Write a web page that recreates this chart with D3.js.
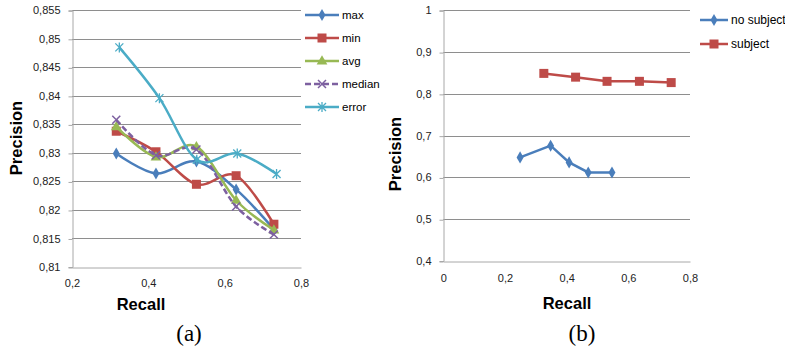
<!DOCTYPE html>
<html>
<head>
<meta charset="utf-8">
<script src="https://cdn.jsdelivr.net/npm/d3@7"></script>
<style>
  body { margin: 0; background: #fff; }
  svg { display: block; }
  text { font-family: "Liberation Sans", Arial, sans-serif; fill: #000; }
</style>
</head>
<body>
<svg id="chart" width="785" height="347"></svg>
<script>
// ---- data ----
// panel (a)
const recallA = [0.316, 0.42, 0.526, 0.63, 0.729];
const recallErr = [0.324, 0.429, 0.527, 0.633, 0.736];
const maxVals = [0.8299, 0.8264, 0.8285, 0.8236, 0.8166];
const minVals = [0.8338, 0.8302, 0.8245, 0.8260, 0.8175];
const avgVals = [0.8346, 0.8293, 0.8311, 0.8217, 0.8165];
const medianVals = [0.8358, 0.8296, 0.8306, 0.8206, 0.8157];
const errorVals = [0.8485, 0.8396, 0.8288, 0.8299, 0.8263];
const yTicksA = [0.81, 0.815, 0.82, 0.825, 0.83, 0.835, 0.84, 0.845, 0.85, 0.855];
const xTicksA = [0.2, 0.4, 0.6, 0.8];

// panel (b)
const recallNoSubj = [0.249, 0.348, 0.408, 0.470, 0.547];
const precNoSubj = [0.648, 0.676, 0.636, 0.612, 0.612];
const recallSubj = [0.326, 0.429, 0.531, 0.636, 0.739];
const precSubj = [0.849, 0.840, 0.830, 0.830, 0.827];
const yTicksB = [0.4, 0.5, 0.6, 0.7, 0.8, 0.9, 1];
const xTicksB = [0, 0.2, 0.4, 0.6, 0.8];

const svg = d3.select('#chart');
const comma = d => String(d).replace('.', ',');

const zip = (xs, ys) => xs.map((x, i) => ({x: x, y: ys[i]}));

// marker drawing
function drawMarker(g, type, color, px, py){
  if(type === 'diamond'){
    g.append('path').attr('d', d3.symbol(d3.symbolDiamond, 42)())
      .attr('transform', 'translate('+px+','+py+')').attr('fill', color);
  } else if(type === 'square'){
    g.append('rect').attr('x', px-4.5).attr('y', py-4.5).attr('width', 9).attr('height', 9)
      .attr('fill', color);
  } else if(type === 'triangle'){
    g.append('path').attr('d', d3.symbol(d3.symbolTriangle, 50)())
      .attr('transform', 'translate('+px+','+(py+0.5)+')').attr('fill', color);
  } else if(type === 'cross'){
    g.append('path').attr('d', 'M-4,-4L4,4M-4,4L4,-4')
      .attr('transform', 'translate('+px+','+py+')')
      .attr('stroke', color).attr('stroke-width', 1.5).attr('fill', 'none');
  } else if(type === 'star'){
    g.append('path').attr('d', 'M-4,-4L4,4M-4,4L4,-4M0,-5L0,5')
      .attr('transform', 'translate('+px+','+py+')')
      .attr('stroke', color).attr('stroke-width', 1.3).attr('fill', 'none');
  }
}

function drawPanel(opt){
  const x = d3.scaleLinear().domain(opt.xDomain).range(opt.xRange);
  const y = d3.scaleLinear().domain(opt.yDomain).range(opt.yRange);
  const g = svg.append('g');

  // grid
  g.selectAll('line.grid').data(opt.yTicks.slice(1)).enter().append('line')
    .attr('x1', opt.xRange[0]).attr('x2', opt.xRange[1])
    .attr('y1', d => Math.round(y(d)) + 0.5).attr('y2', d => Math.round(y(d)) + 0.5)
    .attr('stroke', '#8e8e8e').attr('stroke-width', 1);

  // y axis
  const yAxis = d3.axisLeft(y).tickValues(opt.yTicks).tickFormat(comma).tickSize(4).tickPadding(8);
  const ya = g.append('g').attr('transform', 'translate('+(Math.round(opt.xRange[0])+0.5)+',0)').call(yAxis);
  ya.select('.domain').attr('stroke', '#a8a8a8');
  ya.selectAll('.tick line').attr('stroke', '#a8a8a8').attr('transform', 'translate(0,0.5)');
  ya.selectAll('.tick text').attr('font-size', 11).style('fill', '#222');

  // x axis
  const xAxis = d3.axisBottom(x).tickValues(opt.xTicks).tickFormat(comma).tickSize(0).tickPadding(opt.xPad);
  const xa = g.append('g').attr('transform', 'translate(0,'+(Math.round(opt.yRange[0])+0.5)+')').call(xAxis);
  xa.select('.domain').attr('stroke', '#a8a8a8');
  xa.selectAll('.tick text').attr('font-size', 11).style('fill', '#222');

  // titles
  g.append('text').attr('x', opt.xTitle[0]).attr('y', opt.xTitle[1])
    .attr('text-anchor', 'middle').attr('font-size', 16.5).attr('font-weight', 'bold').text('Recall');
  g.append('text').attr('transform', 'translate('+opt.yTitle[0]+','+opt.yTitle[1]+') rotate(-90)')
    .attr('text-anchor', 'middle').attr('dominant-baseline', 'central')
    .attr('font-size', 16.5).attr('font-weight', 'bold').text('Precision');
  g.append('text').attr('x', opt.caption[0]).attr('y', opt.caption[1])
    .attr('text-anchor', 'middle').style('font-family', '"Liberation Serif", "Times New Roman", serif')
    .attr('font-size', 23).text(opt.captionText);

  // series
  const line = d3.line().x(d => x(d.x)).y(d => y(d.y)).curve(opt.curve);
  opt.series.forEach(s => {
    const pts = zip(s.x, s.y);
    g.append('path').attr('d', line(pts)).attr('fill', 'none')
      .attr('stroke', s.color).attr('stroke-width', 2.5)
      .attr('stroke-dasharray', s.dash || null);
    pts.forEach(p => drawMarker(g, s.marker, s.color, x(p.x), y(p.y)));
  });

  // legend
  opt.series.forEach((s, i) => {
    const ly = opt.legend.y + i * opt.legend.step;
    const x0 = opt.legend.x, x1 = opt.legend.x + opt.legend.len;
    g.append('line').attr('x1', x0).attr('x2', x1).attr('y1', ly).attr('y2', ly)
      .attr('stroke', s.color).attr('stroke-width', 2.5).attr('stroke-dasharray', s.dash || null);
    drawMarker(g, s.marker, s.color, (x0 + x1) / 2, ly);
    g.append('text').attr('x', x1 + 3).attr('y', ly).attr('dominant-baseline', 'central')
      .attr('font-size', opt.legend.fontSize).text(s.name);
  });
}

const blue = '#4a7ebb', red = '#be4b48', green = '#98b954', purple = '#7d60a0', cyan = '#4bacc6';

drawPanel({
  xDomain: [0.2, 0.8], xRange: [72, 301],
  yDomain: [0.81, 0.855], yRange: [267, 10.3],
  yTicks: yTicksA, xTicks: xTicksA, xPad: 12,
  xTitle: [141, 310], yTitle: [16, 138], caption: [189, 341], captionText: '(a)',
  curve: d3.curveCardinal.tension(0),
  series: [
    {name: 'max', x: recallA, y: maxVals, color: blue, marker: 'diamond'},
    {name: 'min', x: recallA, y: minVals, color: red, marker: 'square'},
    {name: 'avg', x: recallA, y: avgVals, color: green, marker: 'triangle'},
    {name: 'median', x: recallA, y: medianVals, color: purple, marker: 'cross', dash: '6,3'},
    {name: 'error', x: recallErr, y: errorVals, color: cyan, marker: 'star'}
  ],
  legend: {x: 305, y: 15, step: 23, len: 34, fontSize: 11.5}
});

drawPanel({
  xDomain: [0, 0.8], xRange: [443.3, 690],
  yDomain: [0.4, 1], yRange: [261, 10.3],
  yTicks: yTicksB, xTicks: xTicksB, xPad: 13,
  xTitle: [567, 309], yTitle: [395, 154], caption: [582, 341], captionText: '(b)',
  curve: d3.curveLinear,
  series: [
    {name: 'no subject', x: recallNoSubj, y: precNoSubj, color: blue, marker: 'diamond'},
    {name: 'subject', x: recallSubj, y: precSubj, color: red, marker: 'square'}
  ],
  legend: {x: 700, y: 20, step: 24, len: 28, fontSize: 12}
});
</script>
</body>
</html>
